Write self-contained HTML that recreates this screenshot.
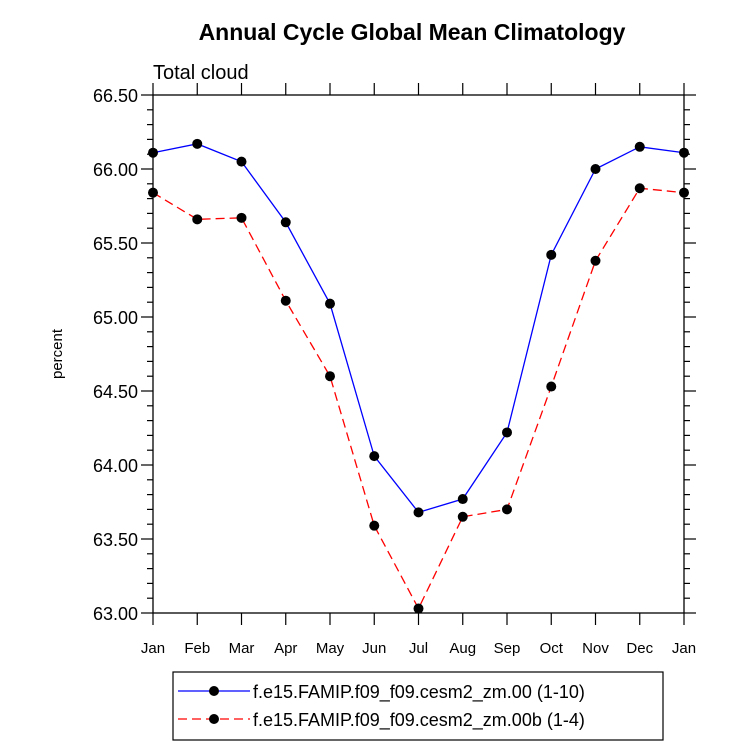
<!DOCTYPE html>
<html><head><meta charset="utf-8"><style>
body{margin:0;background:#fff;}
svg{display:block;font-family:"Liberation Sans",Arial,sans-serif;}
</style></head><body>
<svg id="c" width="733" height="748">
<text x="412" y="40" text-anchor="middle" font-size="23" font-weight="bold">Annual Cycle Global Mean Climatology</text>
<text x="153" y="79" font-size="20">Total cloud</text>
<text transform="translate(62,354) rotate(-90)" text-anchor="middle" font-size="15">percent</text>
<g id="axes"></g><g id="series"></g>
<g>
<rect x="173" y="672" width="490" height="68" fill="none" stroke="#000" stroke-width="1.2"/>
<g>
<line x1="178" y1="691" x2="250" y2="691" stroke="#00f" stroke-width="1.3"/><circle cx="214" cy="691" r="5" fill="#000"/>
<text x="253" y="698" font-size="18">f.e15.FAMIP.f09_f09.cesm2_zm.00 (1-10)</text></g>
<g>
<line x1="178" y1="719" x2="250" y2="719" stroke="#f00" stroke-width="1.3" stroke-dasharray="9,5"/><circle cx="214" cy="719" r="5" fill="#000"/>
<text x="253" y="726" font-size="18">f.e15.FAMIP.f09_f09.cesm2_zm.00b (1-4)</text></g>
</g>
</svg>
<script>
const months=["Jan","Feb","Mar","Apr","May","Jun","Jul","Aug","Sep","Oct","Nov","Dec","Jan"];
const blueValues=[66.11,66.17,66.05,65.64,65.09,64.06,63.68,63.77,64.22,65.42,66.00,66.15,66.11];
const redValues=[65.84,65.66,65.67,65.11,64.60,63.59,63.03,63.65,63.70,64.53,65.38,65.87,65.84];
const yTicks=["63.00","63.50","64.00","64.50","65.00","65.50","66.00","66.50"];
const NS="http://www.w3.org/2000/svg";
const L=153,R=684,T=95,B=613,ymin=63,ymax=66.5;
const xs=i=>L+i*(R-L)/(months.length-1);
const ys=v=>B-(v-ymin)/(ymax-ymin)*(B-T);
function mk(p,tag,a){const e=document.createElementNS(NS,tag);for(const k in a)e.setAttribute(k,a[k]);p.appendChild(e);return e;}
const ax=document.getElementById('axes');
const fr=mk(ax,'rect',{x:L,y:T,width:R-L,height:B-T,fill:'none',stroke:'#000','stroke-width':1.3});


for(let v=ymin;v<=ymax+1e-6;v+=0.1){
  const y=ys(v);const maj=Math.abs(v*2-Math.round(v*2))<1e-6;const len=maj?12:6;
  mk(ax,'line',{x1:L-len,y1:y,x2:L,y2:y,stroke:'#000','stroke-width':1.2});
  mk(ax,'line',{x1:R,y1:y,x2:R+len,y2:y,stroke:'#000','stroke-width':1.2});
}
yTicks.forEach(t=>{const e=mk(ax,'text',{x:L-15,y:ys(+t)+7,'text-anchor':'end','font-size':18});e.textContent=t;

});
months.forEach((m,i)=>{const x=xs(i);
  mk(ax,'line',{x1:x,y1:B,x2:x,y2:B+12,stroke:'#000','stroke-width':1.2});
  mk(ax,'line',{x1:x,y1:T-12,x2:x,y2:T,stroke:'#000','stroke-width':1.2});
  const e=mk(ax,'text',{x:x,y:B+40,'text-anchor':'middle','font-size':15});e.textContent=m;
  
  });
const sg=document.getElementById('series');
function series(vals,color,dash,name){
  const pl=mk(sg,'polyline',{points:vals.map((v,i)=>xs(i)+','+ys(v)).join(' '),fill:'none',stroke:color,'stroke-width':1.3,'stroke-dasharray':dash});
  
  
  vals.forEach((v,i)=>{const c=mk(sg,'circle',{cx:xs(i),cy:ys(v),r:5,fill:'#000'});
    
    });
}
series(redValues,'#f00','9,5','red-series');
series(blueValues,'#00f','none','blue-series');
</script>
</body></html>
